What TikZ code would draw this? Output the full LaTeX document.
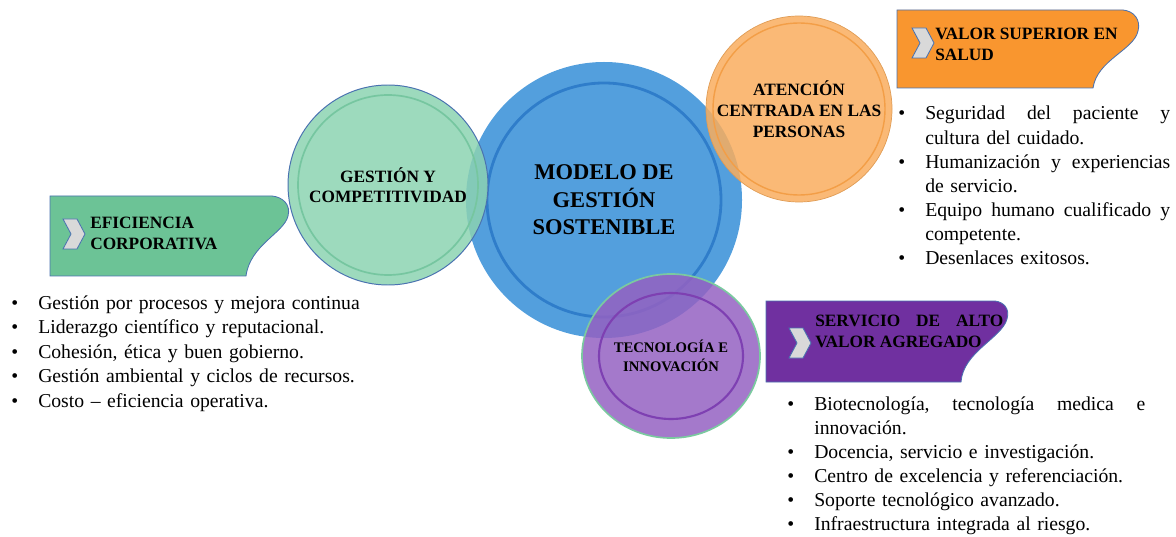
\documentclass[tikz,border=0pt]{standalone}
\usepackage{fontspec}
\setmainfont{Liberation Serif}
\usetikzlibrary{shapes.geometric}

% one unit = one pixel of the drawing
\newlength{\px}
\setlength{\px}{0.025cm}

\definecolor{azulCirc}{HTML}{4A9ADB}
\definecolor{azulAro}{HTML}{2F7DCA}
\definecolor{verdeCirc}{HTML}{8CD3B2}
\definecolor{verdeAro}{HTML}{76C6A0}
\definecolor{naranjaCirc}{HTML}{F9AD5E}
\definecolor{naranjaAro}{HTML}{F39E47}
\definecolor{moradoCirc}{HTML}{9461C2}
\definecolor{moradoAro}{HTML}{7E40B2}
\definecolor{verdeCinta}{HTML}{6CC396}
\definecolor{naranjaCinta}{HTML}{F9962F}
\definecolor{moradoCinta}{HTML}{7030A0}
\definecolor{bordeCinta}{HTML}{4A72B0}
\definecolor{grisFlecha}{HTML}{D9D9D9}

% bullet item with hanging text
\newcommand{\vinieta}[1]{\noindent\hangindent=27\px\hangafter=1%
  \makebox[27\px][l]{\textbullet}#1\par}
% line spread over a given width
\newcommand{\estirar}[2]{\hbox to #1{\frenchspacing\spaceskip=0.25em plus 1fil\relax #2}}
% justified first line of an item
\newcommand{\renglon}[1]{\estirar{\dimexpr\hsize-27\px\relax}{#1}\newline}

\tikzset{
  flecha/.pic={
    \filldraw[fill=grisFlecha, draw=bordeCinta, line width=0.6pt]
      (0,0) -- (14,0) -- (22,15) -- (14,30) -- (0,30) -- (8,15) -- cycle;
  }
}

\begin{document}
\begin{tikzpicture}[x=\px, y=-\px,
    circulo/.style={circle, inner sep=0pt, align=center, fill opacity=0.85, text opacity=1,
      font=\bfseries\fontsize{12.3}{14.2}\selectfont},
    titulo/.style={inner sep=0pt, align=left, anchor=west,
      font=\bfseries\fontsize{12.3}{15}\selectfont},
    lista/.style={inner sep=0pt, anchor=base west,
      font=\fontsize{14}{17.07}\selectfont},
    cinta/.style={draw=bordeCinta, line width=0.6pt},
  ]
  \useasboundingbox (0,0) rectangle (1176,537);

  % ribbons
  \filldraw[cinta, fill=verdeCinta] (50,196) -- (272,196)
    .. controls (283,197) and (291,205) .. (288,216)
    .. controls (284,233) and (250,245) .. (246,276) -- (50,276) -- cycle;
  \filldraw[cinta, fill=naranjaCinta] (897,10) -- (1123,10)
    .. controls (1134,11) and (1141,20) .. (1138,31)
    .. controls (1134,50) and (1097,60) .. (1093,88) -- (897,88) -- cycle;
  \filldraw[cinta, fill=moradoCinta] (766,301) -- (995,301)
    .. controls (1004,302) and (1010,309) .. (1007,319)
    .. controls (1002,338) and (963,352) .. (961,382) -- (766,382) -- cycle;

  \pic at (63,219) {flecha};
  \pic at (912,28) {flecha};
  \pic at (789,328) {flecha};

  \node[titulo] (efic) at (90,233) {EFICIENCIA\\CORPORATIVA};
  \node[titulo] (valor) at (935,44) {VALOR SUPERIOR EN\\SALUD};
  \node[titulo] (servicio) at (815,331)
    {\estirar{188\px}{SERVICIO DE ALTO}\\VALOR AGREGADO};

  % circles
  \node[circulo, minimum size=276\px, fill=azulCirc, fill opacity=0.95,
    font=\bfseries\fontsize{16}{19.6}\selectfont] (modelo) at (604,200)
    {MODELO DE\\GESTIÓN\\SOSTENIBLE};
  \draw[azulAro, line width=2pt] (modelo.center) circle (117\px);

  \node[circulo, minimum size=200\px, fill=verdeCirc, draw=bordeCinta, line width=0.7pt]
    (gestion) at (388,185) {GESTIÓN Y\\COMPETITIVIDAD};
  \draw[verdeAro, line width=1.2pt] (gestion.center) circle (90\px);

  \node[circulo, minimum size=186\px, fill=naranjaCirc, draw=naranjaCirc!90!black,
    line width=0.5pt, font=\bfseries\fontsize{12.3}{15}\selectfont]
    (atencion) at (799,109) {ATENCIÓN\\CENTRADA EN LAS\\PERSONAS};
  \draw[naranjaAro, line width=1pt] (atencion.center) circle (86\px);

  \node[circulo, ellipse, minimum width=178\px, minimum height=164\px, fill=moradoCirc,
    draw=verdeCinta!90!white, line width=1.2pt, font=\bfseries\fontsize{10.4}{13.5}\selectfont]
    (tecno) at (671,356) {TECNOLOGÍA E\\INNOVACIÓN};
  \draw[moradoAro, line width=1.5pt] (tecno.center) ellipse [x radius=72\px, y radius=63\px];

  % bullet lists
  \node[lista, text width=360\px, font=\fontsize{14}{17.43}\selectfont] (izq) at (11,309) {%
    \vinieta{Gestión por procesos y mejora continua}
    \vinieta{Liderazgo científico y reputacional.}
    \vinieta{Cohesión, ética y buen gobierno.}
    \vinieta{Gestión ambiental y ciclos de recursos.}
    \vinieta{Costo -- eficiencia operativa.}};

  \node[lista, text width=272\px] (der) at (898,120) {%
    \vinieta{\renglon{Seguridad del paciente y}cultura del cuidado.}
    \vinieta{\renglon{Humanización y experiencias}de servicio.}
    \vinieta{\renglon{Equipo humano cualificado y}competente.}
    \vinieta{Desenlaces exitosos.}};

  \node[lista, text width=358\px] (abajo) at (787,410) {%
    \vinieta{\renglon{Biotecnología, tecnología medica e}innovación.}
    \vinieta{Docencia, servicio e investigación.}
    \vinieta{Centro de excelencia y referenciación.}
    \vinieta{Soporte tecnológico avanzado.}
    \vinieta{Infraestructura integrada al riesgo.}};
\end{tikzpicture}
\end{document}
